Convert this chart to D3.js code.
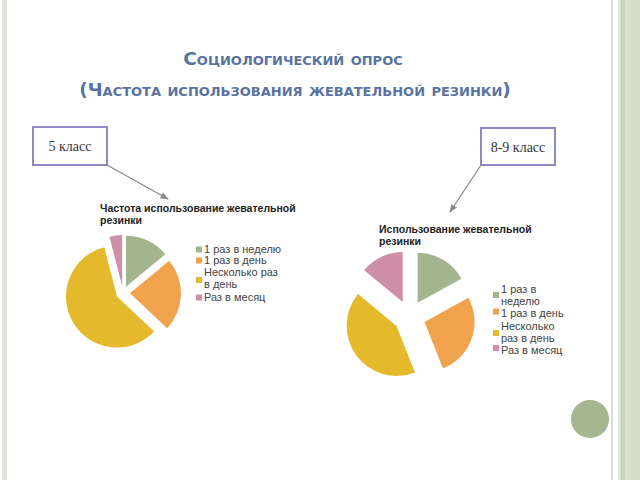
<!DOCTYPE html>
<html>
<head>
<meta charset="utf-8">
<script src="https://cdn.jsdelivr.net/npm/d3@7"></script>
<style>
  html, body { margin: 0; padding: 0; background: #fff; }
  svg { display: block; }
</style>
</head>
<body>
<svg id="chart" width="640" height="480"></svg>
<script>
// ---- data ----
const titleLines = ["Социологический опрос", "(Частота использования жевательной резинки)"];
const categories = ["1 раз в неделю", "1 раз в день", "Несколько раз в день", "Раз в месяц"];
const grade5Label = "5 класс";
const grade89Label = "8-9 класс";
const grade5Title = ["Частота использование жевательной", "резинки"];
const grade89Title = ["Использование жевательной", "резинки"];
const grade5Values = [14, 23, 59, 4];
const grade89Values = [17, 27, 42, 14];
const grade5LegendLines = [["1 раз в неделю"], ["1 раз в день"], ["Несколько раз", "в день"], ["Раз в месяц"]];
const grade89LegendLines = [["1 раз в", "неделю"], ["1 раз в день"], ["Несколько", "раз в день"], ["Раз в месяц"]];
const sliceColors = ["#a3b58f", "#f0a24c", "#e5b92c", "#cf8fa8"];

const svg = d3.select("#chart");

// ---- slide decoration ----
const deco = svg.append("g");
deco.append("rect").attr("x", 2).attr("y", 0).attr("width", 2).attr("height", 480).attr("fill", "#e2e2e2");
deco.append("rect").attr("x", 4).attr("y", 0).attr("width", 3).attr("height", 480).attr("fill", "#dbe3d3");
deco.append("rect").attr("x", 611).attr("y", 0).attr("width", 2).attr("height", 480).attr("fill", "#dcdcdc");
deco.append("rect").attr("x", 618).attr("y", 0).attr("width", 22).attr("height", 480).attr("fill", "#d4ddc9");
deco.append("rect").attr("x", 618).attr("y", 0).attr("width", 2).attr("height", 480).attr("fill", "#e2e8da");
deco.append("rect").attr("x", 621).attr("y", 0).attr("width", 4).attr("height", 480).attr("fill", "#c9d4bd");
deco.append("rect").attr("x", 626).attr("y", 0).attr("width", 2).attr("height", 480).attr("fill", "#dde4d4");
deco.append("circle").attr("cx", 590).attr("cy", 419).attr("r", 19).attr("fill", "#a5b690");

// ---- main title ----
const title = svg.append("text")
  .attr("text-anchor", "middle")
  .attr("fill", "#5872a1")
  .style("font-family", "'DejaVu Sans', sans-serif")
  .style("font-weight", "bold")
  .style("font-variant", "small-caps")
  .style("font-size", "18.5px");
title.append("tspan").attr("x", 293).attr("y", 65).text(titleLines[0]);
title.append("tspan").attr("x", 295).attr("y", 96).text(titleLines[1]);

// ---- arrow marker ----
svg.append("defs").append("marker")
  .attr("id", "arrow").attr("viewBox", "0 0 10 10")
  .attr("refX", 9).attr("refY", 5)
  .attr("markerWidth", 7).attr("markerHeight", 7)
  .attr("orient", "auto")
  .append("path").attr("d", "M0,1 L10,5 L0,9 Z").attr("fill", "#8a8a8a");

function callout(label, box, from, to) {
  const g = svg.append("g");
  g.append("line")
    .attr("x1", from[0]).attr("y1", from[1]).attr("x2", to[0]).attr("y2", to[1])
    .attr("stroke", "#8a8a8a").attr("stroke-width", 1.2)
    .attr("marker-end", "url(#arrow)");
  g.append("rect")
    .attr("x", box[0]).attr("y", box[1]).attr("width", box[2]).attr("height", box[3])
    .attr("fill", "#fff").attr("stroke", "#8f88c6").attr("stroke-width", 2);
  g.append("text")
    .attr("x", box[0] + box[2] / 2).attr("y", box[1] + box[3] / 2 + 5)
    .attr("text-anchor", "middle")
    .attr("fill", "#333")
    .style("font-family", "'Liberation Serif', 'DejaVu Serif', serif")
    .style("font-size", "14px")
    .text(label);
}
callout(grade5Label, [33, 127, 74, 38], [107, 165], [168, 199]);
callout(grade89Label, [481, 128, 74, 37], [481, 165], [450, 212]);

// ---- pies ----
function drawPie(opts) {
  const g = svg.append("g");
  const t = g.append("text")
    .attr("fill", "#222")
    .style("font-family", "'Liberation Sans', Arial, sans-serif")
    .style("font-weight", "bold")
    .style("font-size", "10.5px");
  opts.title.forEach((line, i) => {
    t.append("tspan").attr("x", opts.titlePos[0]).attr("y", opts.titlePos[1] + i * 11.5).text(line);
  });

  const pie = d3.pie().sort(null).value(d => d)(opts.values);
  const arc = d3.arc().innerRadius(0).outerRadius(opts.r);
  const color = d3.scaleOrdinal().domain(categories).range(sliceColors);

  g.append("g")
    .attr("transform", `translate(${opts.center[0]},${opts.center[1]})`)
    .selectAll("path")
    .data(pie)
    .join("path")
    .attr("d", arc)
    .attr("fill", (d, i) => color(categories[i]))
    .attr("transform", d => {
      const a = (d.startAngle + d.endAngle) / 2;
      return `translate(${Math.sin(a) * opts.explode},${-Math.cos(a) * opts.explode})`;
    });

  const lg = g.append("g")
    .style("font-family", "'Liberation Sans', Arial, sans-serif")
    .style("font-size", "11px");
  opts.legendLines.forEach((lines, i) => {
    lg.append("rect")
      .attr("x", opts.legendX).attr("y", opts.squareY[i])
      .attr("width", opts.square).attr("height", opts.square)
      .attr("fill", color(categories[i]));
    const tx = lg.append("text").attr("fill", "#444");
    lines.forEach((line, j) => {
      tx.append("tspan")
        .attr("x", opts.legendX + opts.square + 2)
        .attr("y", opts.rowY[i] + j * opts.lineH)
        .text(line);
    });
  });
}

drawPie({
  title: grade5Title, titlePos: [100, 212],
  values: grade5Values, center: [123, 293], r: 51, explode: 7,
  legendLines: grade5LegendLines, legendX: 196, square: 6, lineH: 11.5,
  rowY: [253, 264, 276, 300.5], squareY: [246.5, 257.5, 277, 294.5]
});

drawPie({
  title: grade89Title, titlePos: [379, 233],
  values: grade89Values, center: [409.5, 316.5], r: 50, explode: 16,
  legendLines: grade89LegendLines, legendX: 493, square: 6, lineH: 11.5,
  rowY: [293, 317, 330, 354], squareY: [292, 308.5, 330, 345]
});
</script>
</body>
</html>
